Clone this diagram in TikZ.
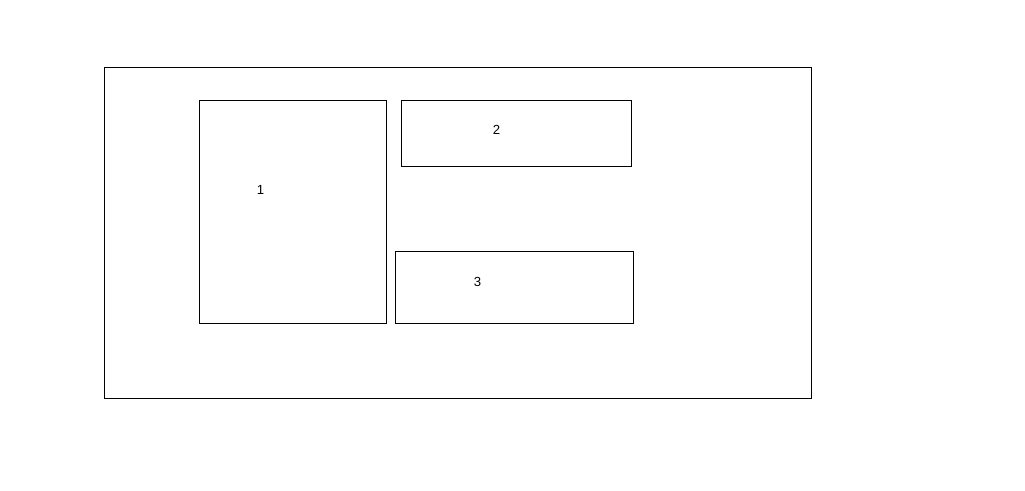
\documentclass[tikz,border=0pt]{standalone}
\usepackage{fontspec}
\setmainfont{Liberation Sans}
\begin{document}
\begin{tikzpicture}[
  panel/.style={rectangle, draw, line width=0.4pt, inner sep=0pt, outer sep=0pt},
  tag/.style={font=\fontsize{7.5}{8}\selectfont, inner sep=0pt}
]
  \useasboundingbox (0, 0) rectangle (20.5, -9.8);
  % Frame
  \node (frame) [panel, minimum width=14.14cm, minimum height=6.62cm] at (9.15, -4.65) {};
  % Boxes
  \node (box1) [panel, minimum width=3.74cm, minimum height=4.46cm] at (5.85, -4.23) {};
  \node (box2) [panel, minimum width=4.6cm, minimum height=1.32cm] at (10.32, -2.66) {};
  \node (box3) [panel, minimum width=4.76cm, minimum height=1.44cm] at (10.28, -5.74) {};
  % Labels
  \node (lab1) [tag] at (5.21, -3.79) {1};
  \node (lab2) [tag] at (9.93, -2.59) {2};
  \node (lab3) [tag] at (9.55, -5.63) {3};
\end{tikzpicture}
\end{document}
